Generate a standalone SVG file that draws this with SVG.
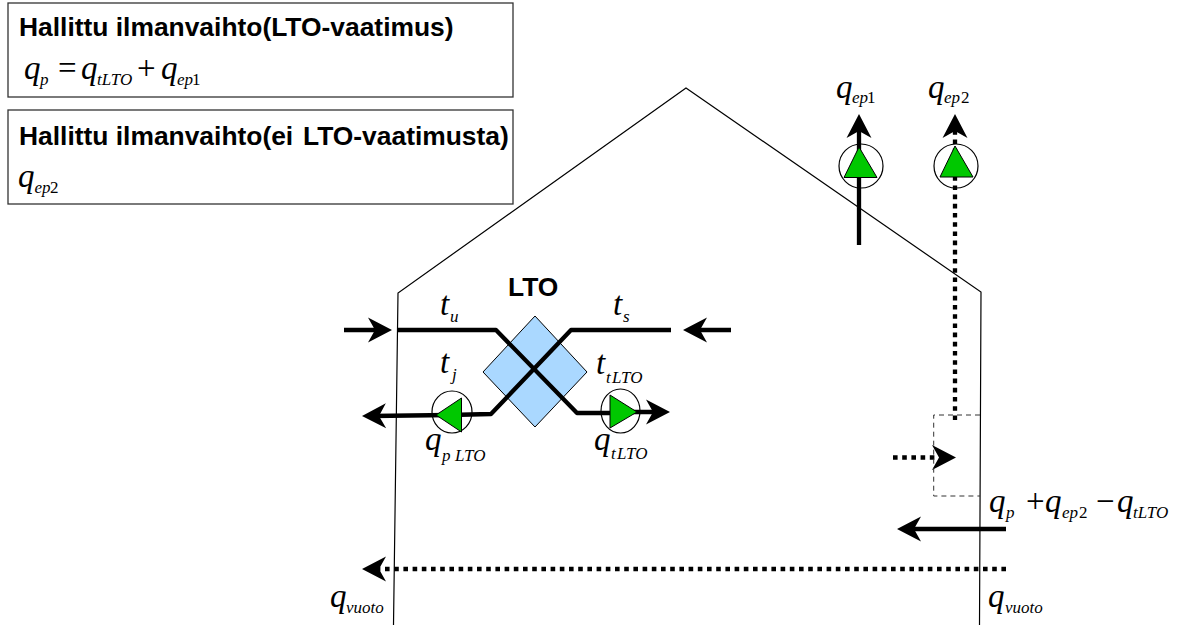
<svg xmlns="http://www.w3.org/2000/svg" width="1180" height="625" viewBox="0 0 1180 625">
<style>
.h{font-family:"Liberation Sans",Arial,sans-serif;font-weight:bold;font-size:26.400px;fill:#000}
.m{font-family:"Liberation Serif","Times New Roman",serif;font-style:italic;font-size:33px;fill:#000}
.s{font-size:17px}
.u{font-style:normal}
.box{fill:#fff;stroke:#333;stroke-width:1.3}
.wall{fill:none;stroke:#000;stroke-width:1.2}
.th{fill:none;stroke:#000;stroke-width:4.300;stroke-linejoin:round}
.dot{fill:none;stroke:#000;stroke-width:4.300;stroke-dasharray:4.600 4.600}
.pc{fill:none;stroke:#000;stroke-width:1.2}
.pt{fill:#00c800;stroke:#000;stroke-width:1}
</style>
<defs>
<marker id="ah" markerUnits="userSpaceOnUse" markerWidth="28" markerHeight="28" refX="16" refY="14" orient="auto">
<path d="M25 14L1 1.500L8 14L1 26.500Z" fill="#000"/>
</marker>
</defs>
<g id="legend1">
<rect class="box" x="8" y="3" width="505" height="94"/>
<text class="h" x="19" y="36">Hallittu ilmanvaihto(LTO-vaatimus)</text>
<text class="m" x="24" y="79">q<tspan class="s" x="40" y="85">p</tspan><tspan x="58" y="79" class="u">=</tspan><tspan x="81" y="79">q</tspan><tspan class="s" x="97" y="85">tLTO</tspan><tspan x="137" y="79" class="u">+</tspan><tspan x="161" y="79">q</tspan><tspan class="s" x="177" y="85">ep</tspan><tspan class="s u" x="192" y="85">1</tspan></text>
</g>
<g id="legend2">
<rect class="box" x="8" y="110" width="505" height="94"/>
<text class="h" x="19" y="145">Hallittu ilmanvaihto(ei <tspan x="303">LTO-vaatimusta)</tspan></text>
<text class="m" x="18" y="187">q<tspan class="s" x="34.500" y="193">ep</tspan><tspan class="s u" x="50" y="193">2</tspan></text>
</g>
<g id="house"><path class="wall" d="M393.500 625L398 293L686 88L981 292L979.500 625"/></g>
<g id="lto">
<polygon points="535,316 587,372 535,427 483,372" fill="#aad8ff" stroke="#000" stroke-width="1"/>
<text class="h" x="508" y="296">LTO</text>
</g>
<g id="connectors">
<path class="th" d="M398 330H496L577 413H620"/>
<path class="th" d="M671 330H571L491 414L450 415"/>
<path class="th" d="M344 330H383" marker-end="url(#ah)"/>
<path class="th" d="M731 330H692" marker-end="url(#ah)"/>
<path class="th" d="M620 412H661" marker-end="url(#ah)"/>
<path class="th" d="M450 415L371 416" marker-end="url(#ah)"/>
<path class="th" d="M859 245V123" marker-end="url(#ah)"/>
<path class="dot" d="M955 420V123" marker-end="url(#ah)"/>
<path class="dot" d="M893 457.500H947" marker-end="url(#ah)"/>
<path class="th" d="M1006 529H906" marker-end="url(#ah)"/>
<path class="dot" d="M1006 569H371" marker-end="url(#ah)"/>
<path d="M980 415H933.700V496H980" fill="none" stroke="#333" stroke-width="1" stroke-dasharray="5 4"/>
</g>
<g id="pump-ep1"><circle class="pc" cx="861" cy="166" r="22"/><polygon class="pt" points="859,147 877,177.500 844,177.500"/></g>
<g id="pump-ep2"><circle class="pc" cx="956" cy="166" r="22"/><polygon class="pt" points="955,146 973,177 940,177"/></g>
<g id="pump-p"><ellipse class="pc" cx="452" cy="412" rx="20" ry="21"/><polygon class="pt" points="436,415 461.500,398 461.500,432"/></g>
<g id="pump-t"><ellipse class="pc" cx="620.500" cy="411" rx="19.500" ry="22"/><polygon class="pt" points="610,395 610,428 637,412"/></g>
<g id="labels">
<text class="m" x="836" y="98">q<tspan class="s" x="852" y="103">ep</tspan><tspan class="s u" x="867" y="103">1</tspan></text>
<text class="m" x="928" y="98">q<tspan class="s" x="944" y="103">ep</tspan><tspan class="s u" x="961" y="103">2</tspan></text>
<text class="m" x="440" y="315">t<tspan class="s" x="450" y="322">u</tspan></text>
<text class="m" x="613" y="315">t<tspan class="s" x="623" y="322">s</tspan></text>
<text class="m" x="440" y="373">t<tspan class="s" x="452" y="380">j</tspan></text>
<text class="m" x="596" y="374">t<tspan class="s" x="606" y="383">t</tspan><tspan class="s" x="612" y="383">LTO</tspan></text>
<text class="m" x="425" y="450">q<tspan class="s" x="442" y="461">p</tspan><tspan class="s" x="455" y="461">LTO</tspan></text>
<text class="m" x="594" y="450">q<tspan class="s" x="611" y="459">t</tspan><tspan class="s" x="617" y="459">LTO</tspan></text>
<text class="m" x="989" y="512">q<tspan class="s" x="1006" y="518">p</tspan><tspan x="1026" y="512" class="u">+</tspan><tspan x="1045" y="512">q</tspan><tspan class="s" x="1062" y="518">ep</tspan><tspan class="s u" x="1079" y="518">2</tspan><tspan x="1096" y="512" class="u">−</tspan><tspan x="1117" y="512">q</tspan><tspan class="s" x="1133" y="518">tLTO</tspan></text>
<text class="m" x="988" y="607">q<tspan class="s" x="1005" y="613">vuoto</tspan></text>
<text class="m" x="330" y="607">q<tspan class="s" x="346" y="613">vuoto</tspan></text>
</g>
</svg>
